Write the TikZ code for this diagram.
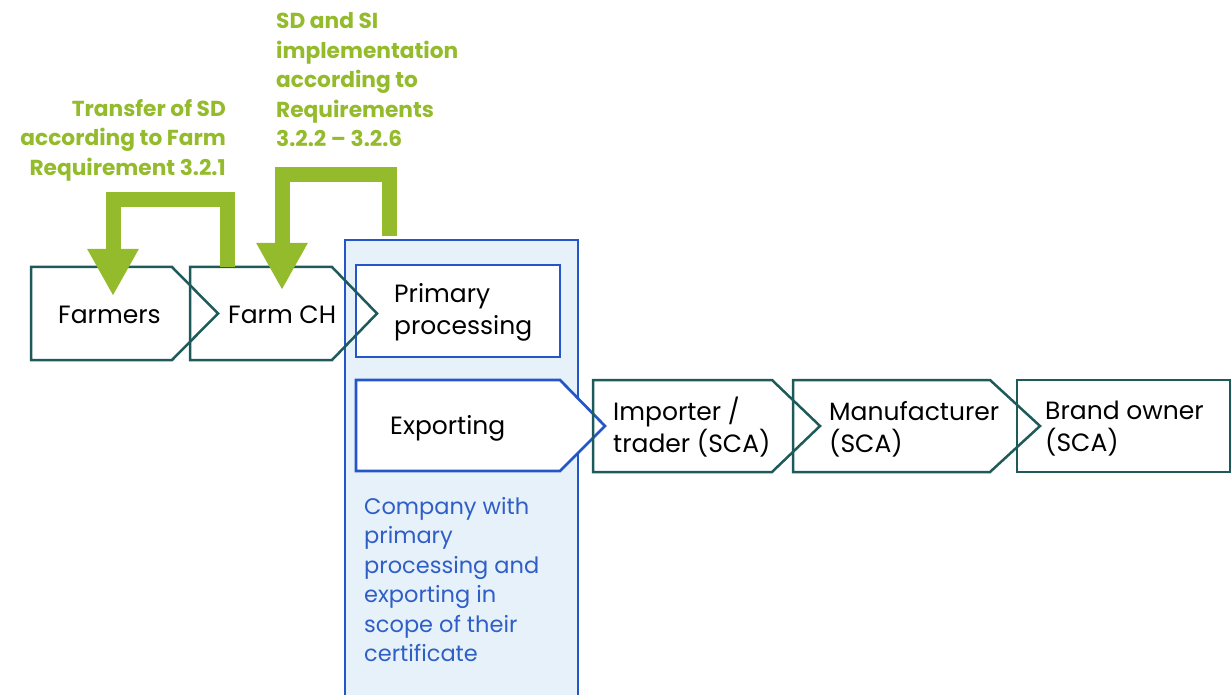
\documentclass[tikz,border=0pt]{standalone}
\usepackage{fontspec}
\setmainfont{Poppins}
\usetikzlibrary{arrows.meta}
\definecolor{grn}{HTML}{94BB2B}
\definecolor{tealc}{HTML}{1E5A5A}
\definecolor{blu}{HTML}{2456C8}
\definecolor{blufill}{HTML}{E6F1F9}
\definecolor{blutext}{HTML}{2F5FC6}
\newcommand\mychev[5]{\path[boxline] (#1,#2) -- (#3,#2) -- (#5,{(#2+#4)/2}) -- (#3,#4) -- (#1,#4) -- cycle;}
\begin{document}
\begin{tikzpicture}[x=1pt,y=-1pt,
  boxline/.style={draw=tealc, line width=2.5pt, line join=miter},
  bline/.style={draw=blu, line width=2.7pt, line join=miter},
  lbl/.style={inner sep=0pt, anchor=west, align=left, font=\fontsize{25}{32}\selectfont},
  glbl/.style={inner sep=0pt, text=grn, font=\fontsize{21.7}{29.5}\selectfont\bfseries},
  blbl/.style={inner sep=0pt, text=blutext, anchor=west, align=left, font=\fontsize{22.5}{29.5}\selectfont},
  garrow/.style={draw=grn, line width=15pt, line join=miter, -{Triangle[width=48pt,length=47pt]}}]
\useasboundingbox (0,0) rectangle (1232,695);
% company box
\path[bline, fill=blufill] (345,702) -- (345,240) -- (578,240) -- (578,702);
\path[bline, fill=white] (356,265) rectangle (560,357);
\path[bline, fill=white] (356,380) -- (560,380) -- (605,426) -- (560,471) -- (356,471) -- cycle;
% chevrons
\mychev{31}{267}{172}{360}{218}
\mychev{190}{267}{332}{360}{377}
\mychev{593}{380}{772}{472}{820}
\mychev{793}{380}{990}{472}{1040}
\path[boxline] (1017,380) rectangle (1230,472);
% labels
\node[lbl] (farmers) at (58,315) {Farmers};
\node[lbl] (farmch) at (228,315) {Farm CH};
\node[lbl] (primary) at (394,312) {Primary\\processing};
\node[lbl] (export) at (390,428) {Exporting};
\node[lbl] (importer) at (613,427) {Importer /\\trader (SCA)};
\node[lbl] (manuf) at (829,429) {Manufacturer\\(SCA)};
\node[lbl] (brand) at (1045,429) {Brand owner\\(SCA)};
\node[blbl] (company) at (364,579.5) {Company with\\primary\\processing and\\exporting in\\scope of their\\certificate};
\node[glbl, anchor=east, align=right] (g1) at (226,140) {Transfer of SD\\according to Farm\\Requirement 3.2.1};
\node[glbl, anchor=west, align=left] (g2) at (276,80) {SD and SI\\implementation\\according to\\Requirements\\3.2.2 – 3.2.6};
% green arrows
\coordinate (a1s) at (227,267);
\coordinate (a1e) at (113,296);
\coordinate (a2s) at (389,236);
\coordinate (a2e) at (282,290);
\draw[garrow] (a1s) -- (227,200) -| (a1e);
\draw[garrow] (a2s) -- (389,175) -| (a2e);
\end{tikzpicture}
\end{document}
